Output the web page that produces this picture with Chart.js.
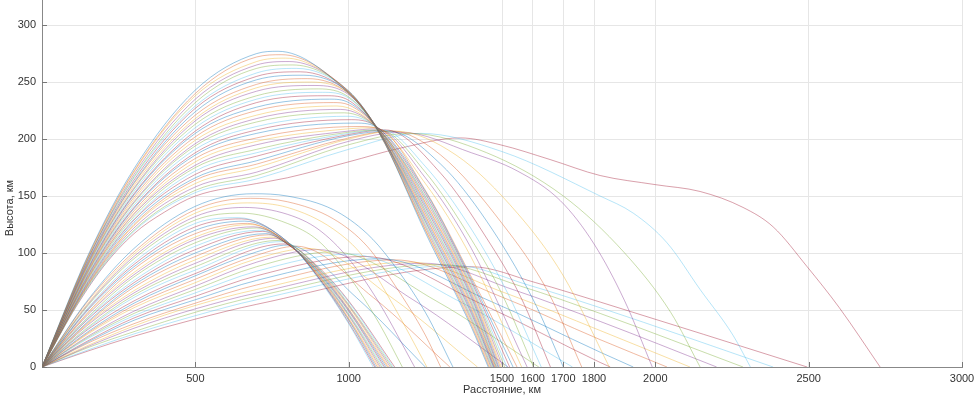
<!DOCTYPE html>
<html>
<head>
<meta charset="utf-8">
<script src="https://cdn.jsdelivr.net/npm/chart.js@4.4.1/dist/chart.umd.min.js"></script>
<style>
  html, body { margin: 0; padding: 0; background: #fff; }
</style>
</head>
<body>
<canvas id="chart" width="975" height="395"></canvas>
<script>
// ============ Data ============
const xTicks = [500, 1000, 1500, 1600, 1700, 1800, 2000, 2500, 3000];
const yTicks = [0, 50, 100, 150, 200, 250, 300];
const lineColors = ["#0072BD", "#D95319", "#EDB120", "#7E2F8E", "#77AC30", "#4DBEEE", "#A2142F"];

// upper family of trajectories, [distance km, height km]
const upperCurves = [
  [[0,0],[150,98],[300,174],[500,243],[700,275],[770,277],[1000,240],[1100,205],[1250,118],[1400,35],[1455,0]],
  [[0,0],[150,97],[300,172],[500,240],[700,272],[782,274],[1000,241],[1100,205],[1250,120],[1400,37],[1458,0]],
  [[0,0],[150,96],[300,171],[500,238],[700,268],[794,271],[1000,241],[1100,205],[1250,121],[1400,39],[1461,0]],
  [[0,0],[150,95],[300,169],[500,235],[700,265],[806,268],[1000,242],[1100,206],[1250,123],[1400,41],[1464,0]],
  [[0,0],[150,95],[300,167],[500,232],[700,262],[818,265],[1000,242],[1100,206],[1250,125],[1400,43],[1467,0]],
  [[0,0],[150,94],[300,166],[500,229],[700,258],[830,262],[1000,242],[1100,206],[1250,127],[1400,45],[1470,0]],
  [[0,0],[150,93],[300,164],[500,227],[700,255],[842,259],[1000,241],[1100,206],[1250,128],[1400,47],[1472,0]],
  [[0,0],[150,92],[300,162],[500,224],[700,252],[854,256],[1000,241],[1100,206],[1250,130],[1400,49],[1474,0]],
  [[0,0],[150,91],[300,161],[500,221],[700,248],[866,253],[1000,240],[1100,206],[1250,132],[1400,51],[1476,0]],
  [[0,0],[150,90],[300,159],[500,218],[700,245],[878,250],[1000,240],[1100,207],[1250,133],[1400,53],[1478,0]],
  [[0,0],[150,90],[300,157],[500,216],[700,242],[890,247],[1000,239],[1100,207],[1250,135],[1400,55],[1480,0]],
  [[0,0],[150,89],[300,156],[500,213],[700,238],[902,244],[1000,237],[1100,207],[1250,137],[1400,57],[1482,0]],
  [[0,0],[150,88],[300,154],[500,210],[700,235],[914,241],[1000,236],[1100,207],[1250,138],[1400,59],[1484,0]],
  [[0,0],[150,87],[300,152],[500,207],[700,232],[926,238],[1000,234],[1100,207],[1250,140],[1400,61],[1487,0]],
  [[0,0],[150,86],[300,151],[500,205],[700,228],[938,235],[1000,232],[1100,208],[1250,142],[1400,63],[1490,0]],
  [[0,0],[150,85],[300,149],[500,202],[700,225],[950,232],[1000,230],[1100,208],[1250,144],[1400,65],[1494,0]],
  [[0,0],[150,84],[300,147],[500,199],[700,221],[962,229],[1100,208],[1250,145],[1400,67],[1498,0]],
  [[0,0],[150,84],[300,145],[500,196],[700,218],[974,226],[1100,208],[1250,147],[1400,69],[1503,0]],
  [[0,0],[150,83],[300,144],[500,194],[700,215],[986,223],[1100,208],[1250,149],[1400,71],[1509,0]],
  [[0,0],[150,82],[300,142],[500,191],[700,211],[998,220],[1100,208],[1250,150],[1400,73],[1516,0]],
  [[0,0],[150,81],[300,140],[500,188],[700,208],[1010,217],[1100,209],[1250,152],[1400,75],[1525,0]],
  [[0,0],[150,80],[300,139],[500,186],[700,205],[1022,214],[1100,209],[1250,154],[1400,77],[1536,0]],
  [[0,0],[150,79],[300,137],[500,183],[700,201],[1034,211],[1100,209],[1250,155],[1400,79],[1549,0]],
  [[0,0],[150,78],[300,135],[500,180],[700,198],[1000,209],[1080,210],[1250,161],[1400,96],[1564,0]],
  [[0,0],[150,78],[300,134],[500,177],[700,195],[1000,207],[1090,209],[1250,166],[1400,104],[1582,0]],
  [[0,0],[150,77],[300,132],[500,175],[700,191],[1000,206],[1100,208],[1250,171],[1400,112],[1500,64],[1603,0]],
  [[0,0],[150,76],[300,130],[500,172],[700,188],[1000,205],[1110,208],[1250,176],[1400,121],[1520,64],[1628,0]],
  [[0,0],[150,75],[300,129],[500,169],[700,185],[1000,204],[1120,208],[1300,170],[1450,113],[1560,62],[1658,0]],
  [[0,0],[150,74],[300,127],[500,166],[700,181],[1000,203],[1130,207],[1300,178],[1450,128],[1600,60],[1700,0]],
  [[0,0],[150,73],[300,125],[500,164],[700,178],[1000,201],[1140,207],[1300,186],[1500,126],[1650,66],[1760,0]],
  [[0,0],[150,72],[300,124],[500,161],[700,175],[1000,200],[1150,207],[1350,186],[1550,135],[1700,80],[1850,0]],
  [[0,0],[150,72],[300,122],[500,158],[700,171],[1000,198],[1170,206],[1400,188],[1550,172],[1690,146],[1800,108],[1900,58],[1990,0]],
  [[0,0],[150,71],[300,120],[500,155],[700,168],[1000,195],[1200,205],[1450,188],[1700,150],[1900,100],[2050,48],[2146,0]],
  [[0,0],[150,70],[300,119],[500,153],[700,165],[1000,191],[1234,205],[1500,189],[1820,150],[1928,135],[2038,109],[2146,68],[2253,28],[2310,0]],
  [[0,0],[100,48],[200,88],[300,117],[400,136],[500,150],[700,161],[800,166],[1000,180],[1168,192],[1364,201],[1494,195],[1657,182],[1820,168],[2000,160],[2146,154],[2286,140],[2384,123],[2495,88],[2600,52],[2733,0]]
];

// lower family of trajectories
const lowerCurves = [
  [[0,0],[150,59],[300,104],[500,141],[690,152],[800,150],[950,138],[1060,117],[1135,94],[1250,48],[1340,0]],
  [[0,0],[150,58],[300,101],[500,138],[680,148],[800,145],[950,130],[1060,106],[1150,72],[1250,28],[1300,0]],
  [[0,0],[150,56],[300,99],[500,135],[670,144],[800,140],[950,121],[1050,96],[1150,52],[1255,0]],
  [[0,0],[150,55],[300,97],[500,132],[660,140],[800,134],[900,121],[1000,95],[1100,56],[1215,0]],
  [[0,0],[150,54],[300,95],[500,129],[650,135],[800,126],[900,111],[1000,80],[1100,38],[1175,0]],
  [[0,0],[150,52],[300,92],[500,126],[640,131],[800,110],[900,78],[1000,38],[1080,0]],
  [[0,0],[150,51],[300,90],[500,123],[650,130],[800,110],[900,79],[1000,39],[1085,0]],
  [[0,0],[150,50],[300,88],[500,120],[660,128],[800,110],[900,79],[1000,41],[1089,0]],
  [[0,0],[150,48],[300,86],[500,117],[670,126],[800,109],[900,80],[1000,42],[1094,0]],
  [[0,0],[150,47],[300,83],[500,114],[680,125],[800,109],[900,81],[1000,43],[1099,0]],
  [[0,0],[150,46],[300,81],[500,112],[690,123],[800,109],[900,81],[1000,45],[1103,0]],
  [[0,0],[150,44],[300,79],[500,109],[700,122],[800,109],[900,82],[1000,46],[1108,0]],
  [[0,0],[150,43],[300,76],[500,106],[710,120],[800,109],[900,83],[1000,47],[1113,0]],
  [[0,0],[150,42],[300,74],[500,103],[720,119],[800,108],[900,83],[1000,49],[1117,0]],
  [[0,0],[150,40],[300,72],[500,100],[730,117],[800,108],[900,84],[1000,50],[1122,0]],
  [[0,0],[150,39],[300,70],[500,97],[740,116],[800,108],[900,85],[1000,51],[1127,0]],
  [[0,0],[150,38],[300,67],[500,94],[750,114],[800,108],[900,85],[1000,53],[1131,0]],
  [[0,0],[150,37],[300,65],[500,91],[760,113],[800,108],[900,86],[1000,54],[1136,0]],
  [[0,0],[150,35],[300,63],[500,88],[770,111],[900,87],[1000,55],[1141,0]],
  [[0,0],[150,34],[300,61],[500,85],[780,110],[900,87],[1000,57],[1145,0]],
  [[0,0],[150,33],[300,58],[500,82],[790,108],[900,88],[1000,58],[1150,0]],
  [[0,0],[150,31],[300,56],[500,80],[700,101],[800,107],[1025,61],[1250,0]],
  [[0,0],[150,30],[300,54],[500,77],[700,98],[830,106],[1080,61],[1330,0]],
  [[0,0],[150,29],[300,52],[500,74],[700,95],[870,104],[1145,60],[1420,0]],
  [[0,0],[150,27],[300,49],[500,71],[700,92],[900,103],[1210,59],[1520,0]],
  [[0,0],[150,26],[300,47],[500,68],[700,88],[950,101],[1285,58],[1620,0]],
  [[0,0],[150,25],[300,45],[500,65],[700,84],[1000,99],[1365,57],[1730,0]],
  [[0,0],[150,23],[300,43],[500,62],[700,80],[1050,97],[1435,55],[1820,4],[1853,0]],
  [[0,0],[150,22],[300,41],[500,59],[700,76],[1100,95],[1460,58],[1820,13],[1928,0]],
  [[0,0],[150,21],[300,38],[500,56],[700,72],[1150,94],[1485,63],[1820,24],[2038,0]],
  [[0,0],[150,19],[300,36],[500,54],[700,68],[1200,92],[1510,65],[1820,32],[2113,0]],
  [[0,0],[150,18],[300,34],[500,51],[700,65],[1250,91],[1535,68],[1820,40],[2200,0]],
  [[0,0],[150,17],[300,31],[500,48],[700,62],[1300,90],[1560,71],[1820,47],[2286,0]],
  [[0,0],[150,15],[300,29],[500,45],[700,59],[1350,89],[1585,72],[1820,52],[2384,0]],
  [[0,0],[150,14],[300,27],[500,42],[700,55],[1400,88],[1610,74],[1820,57],[2495,0]]
];

// ============ Chart ============
const FONT = "'Liberation Sans', Arial, Helvetica, sans-serif";
const TEXT = "#333";

const datasets = upperCurves.concat(lowerCurves).map((c, i) => ({
  data: c.map(p => ({ x: p[0], y: p[1] })),
  borderColor: lineColors[i % lineColors.length] + "73",
  borderWidth: 0.9,
  pointRadius: 0,
  fill: false,
  cubicInterpolationMode: "monotone"
}));

// MATLAB-style inward tick marks + y label
const axisExtras = {
  id: "axisExtras",
  afterDraw(chart) {
    const { ctx, chartArea: a, scales: { x, y } } = chart;
    ctx.save();
    ctx.strokeStyle = "#777";
    ctx.lineWidth = 1;
    xTicks.forEach(v => {
      const px = Math.round(x.getPixelForValue(v)) + 0.5;
      ctx.beginPath(); ctx.moveTo(px, a.bottom); ctx.lineTo(px, a.bottom - 5); ctx.stroke();
    });
    yTicks.forEach(v => {
      const py = Math.round(y.getPixelForValue(v)) + 0.5;
      ctx.beginPath(); ctx.moveTo(a.left, py); ctx.lineTo(a.left + 5, py); ctx.stroke();
    });
    ctx.fillStyle = TEXT;
    ctx.font = "11px " + FONT;
    ctx.textAlign = "center";
    ctx.textBaseline = "middle";
    ctx.translate(10, 208);
    ctx.rotate(-Math.PI / 2);
    ctx.fillText("Высота, км", 0, 0);
    ctx.restore();
  }
};

new Chart(document.getElementById("chart").getContext("2d"), {
  type: "line",
  data: { datasets },
  options: {
    responsive: false,
    animation: false,
    events: [],
    layout: { padding: { top: 0, right: 13, left: 0, bottom: 0 } },
    plugins: { legend: { display: false }, tooltip: { enabled: false } },
    scales: {
      x: {
        type: "linear",
        min: 0, max: 3000,
        afterBuildTicks: s => { s.ticks = xTicks.map(v => ({ value: v })); },
        afterFit: s => { s.height = 28; s.paddingLeft = 0; s.paddingRight = 0; },
        ticks: { autoSkip: false, maxRotation: 0, padding: 5, color: TEXT, font: { size: 11, family: FONT }, callback: v => String(v) },
        grid: { color: "#e6e6e6", drawTicks: false },
        border: { color: "#888" },
        title: { display: true, text: "Расстояние, км", color: TEXT, font: { size: 11, family: FONT }, padding: { top: 0, bottom: -2 } }
      },
      y: {
        type: "linear",
        min: 0, max: 322,
        afterBuildTicks: s => { s.ticks = yTicks.map(v => ({ value: v })); },
        afterFit: s => { s.width = 42; s.paddingTop = 0; s.paddingBottom = 0; },
        ticks: { padding: 6, color: TEXT, font: { size: 11, family: FONT }, callback: v => String(v) },
        grid: { color: "#e6e6e6", drawTicks: false },
        border: { color: "#888" }
      }
    }
  },
  plugins: [axisExtras]
});
</script>
</body>
</html>
